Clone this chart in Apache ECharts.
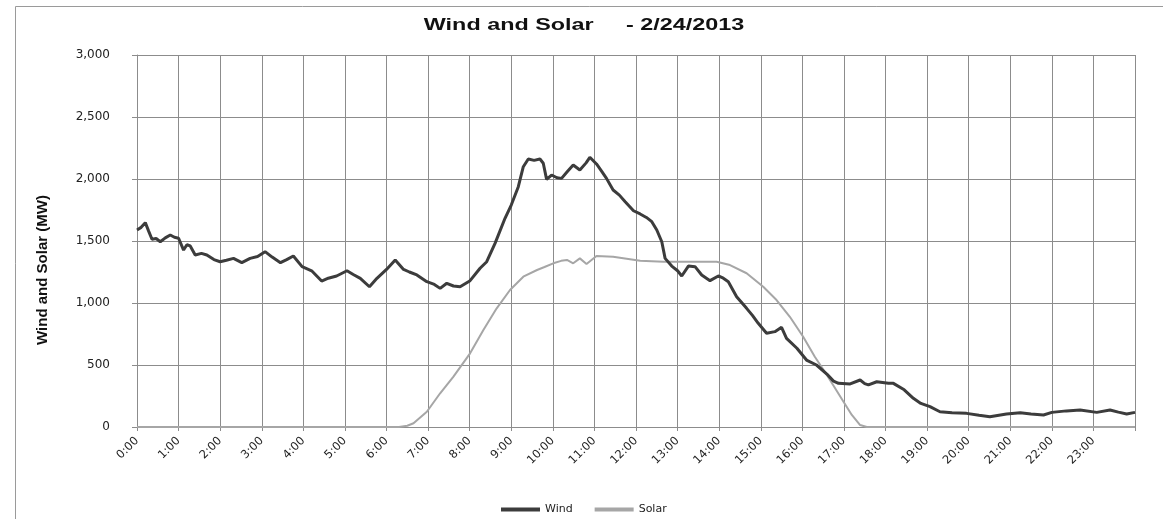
<!DOCTYPE html>
<html>
<head>
<meta charset="utf-8">
<script src="https://cdn.jsdelivr.net/npm/echarts@6/dist/echarts.min.js"></script>
<style>
html,body{margin:0;padding:0;background:#fff;}
#chart{width:1163px;height:519px;}
</style>
</head>
<body>
<div id="chart"></div>
<script>
const titleText = 'Wind and Solar     - 2/24/2013';
const yAxisTitle = 'Wind and Solar (MW)';
const seriesNames = ['Wind', 'Solar'];
const yTicks = [0, 500, 1000, 1500, 2000, 2500, 3000];
const hourLabels = ['0:00','1:00','2:00','3:00','4:00','5:00','6:00','7:00','8:00','9:00','10:00','11:00','12:00','13:00','14:00','15:00','16:00','17:00','18:00','19:00','20:00','21:00','22:00','23:00'];

const windHours = [0.00,0.10,0.20,0.28,0.36,0.46,0.56,0.68,0.80,0.90,1.00,1.12,1.20,1.28,1.40,1.55,1.68,1.85,2.00,2.15,2.32,2.52,2.72,2.90,3.08,3.25,3.45,3.60,3.76,3.97,4.20,4.44,4.60,4.80,5.05,5.20,5.37,5.59,5.77,6.00,6.21,6.41,6.55,6.73,6.97,7.15,7.29,7.45,7.61,7.77,8.01,8.25,8.41,8.61,8.85,9.00,9.17,9.29,9.41,9.55,9.69,9.77,9.85,9.97,10.10,10.21,10.35,10.49,10.65,10.80,10.89,11.05,11.18,11.29,11.45,11.60,11.74,11.94,12.10,12.25,12.38,12.50,12.62,12.70,12.86,13.00,13.10,13.26,13.42,13.58,13.78,13.98,14.10,14.22,14.42,14.66,14.80,14.94,15.14,15.34,15.50,15.62,15.87,16.10,16.34,16.59,16.75,16.87,17.15,17.39,17.50,17.59,17.79,18.07,18.19,18.45,18.67,18.85,19.07,19.31,19.60,19.95,20.25,20.51,20.91,21.24,21.50,21.80,22.00,22.35,22.68,23.08,23.40,23.60,23.80,24.00];
const windMW = [1589,1610,1648,1580,1514,1520,1494,1525,1548,1530,1522,1427,1470,1460,1387,1400,1387,1350,1333,1345,1360,1325,1360,1375,1414,1370,1325,1350,1379,1293,1260,1177,1200,1218,1260,1230,1199,1131,1199,1271,1347,1271,1250,1226,1172,1150,1118,1159,1137,1131,1180,1280,1333,1481,1683,1790,1938,2099,2161,2150,2161,2127,1997,2032,2010,2005,2060,2113,2073,2130,2175,2121,2060,2005,1911,1870,1817,1744,1718,1690,1656,1589,1494,1360,1298,1260,1218,1298,1293,1226,1180,1218,1200,1172,1051,957,900,836,756,769,804,715,635,540,500,427,370,352,347,379,350,339,365,352,352,300,231,190,164,123,115,110,95,83,105,115,105,97,118,130,137,118,137,120,105,118];

const solarHours = [0,6.30,6.50,6.65,6.97,7.29,7.61,8.01,8.33,8.65,8.97,9.29,9.62,9.80,10.01,10.20,10.34,10.49,10.65,10.81,11.05,11.45,12.10,12.66,13.45,13.94,14.26,14.66,15.06,15.38,15.70,16.02,16.30,16.54,16.74,16.99,17.19,17.39,17.55,24];
const solarMW = [0,0,10,30,123,272,406,594,782,957,1105,1212,1266,1290,1320,1340,1347,1320,1360,1315,1379,1373,1341,1333,1333,1333,1306,1240,1131,1024,889,728,567,446,339,204,97,16,0,0];

const windData = windHours.map((h, i) => [h, windMW[i]]);
const solarData = solarHours.map((h, i) => [h, solarMW[i]]);

const chart = echarts.init(document.getElementById('chart'), null, {renderer: 'canvas'});
const txt = '#222';
const grid = '#8c8c8c';
chart.setOption({
  animation: false,
  backgroundColor: '#fff',
  graphic: [
    {type: 'rect', left: 13, top: 4, shape: {width: 1200, height: 600}, style: {fill: 'none', stroke: '#9a9a9a', lineWidth: 1}, silent: true, z: -1},
    {type: 'text', x: 584, y: 26, scaleX: 1.46,
      style: {text: titleText, font: 'bold 16px "Liberation Sans", Arial', fill: '#111', align: 'center', verticalAlign: 'middle'}},
    {type: 'text', x: 43, y: 270, rotation: Math.PI / 2,
      style: {text: yAxisTitle, font: 'bold 15px "Liberation Sans", Arial', fill: '#111', align: 'center', verticalAlign: 'middle'}}
  ],
  legend: {
    left: 496, top: 499, itemGap: 22, itemWidth: 39, itemHeight: 4,
    icon: 'rect',
    textStyle: {fontFamily: 'DejaVu Sans', fontSize: 11, color: txt, width: 36},
    data: seriesNames
  },
  grid: {left: 137, right: 28, top: 55, bottom: 92},
  xAxis: {
    type: 'value', min: 0, max: 24, interval: 1,
    axisLine: {show: true, lineStyle: {color: grid}},
    axisTick: {show: true, length: 4, lineStyle: {color: grid}},
    splitLine: {show: true, lineStyle: {color: grid, width: 1}},
    axisLabel: {
      rotate: 45, margin: 12, fontFamily: 'DejaVu Sans', fontSize: 11.5, color: txt,
      formatter: v => (v < 24 ? hourLabels[v] : '')
    }
  },
  yAxis: {
    type: 'value', min: yTicks[0], max: yTicks[yTicks.length - 1], interval: 500,
    axisLine: {show: true, lineStyle: {color: grid}},
    axisTick: {show: true, length: 5, lineStyle: {color: grid}},
    splitLine: {show: true, lineStyle: {color: grid, width: 1}},
    axisLabel: {margin: 27, fontFamily: 'DejaVu Sans', fontSize: 12, color: txt,
      formatter: v => v.toLocaleString('en-US')}
  },
  series: [
    {name: seriesNames[0], type: 'line', data: windData, showSymbol: false, smooth: false,
      lineStyle: {color: '#3c3c3c', width: 3}, itemStyle: {color: '#3c3c3c'}, z: 3},
    {name: seriesNames[1], type: 'line', data: solarData, showSymbol: false, smooth: false,
      lineStyle: {color: '#a6a6a6', width: 2}, itemStyle: {color: '#a6a6a6'}, z: 2}
  ]
});
</script>
</body>
</html>
